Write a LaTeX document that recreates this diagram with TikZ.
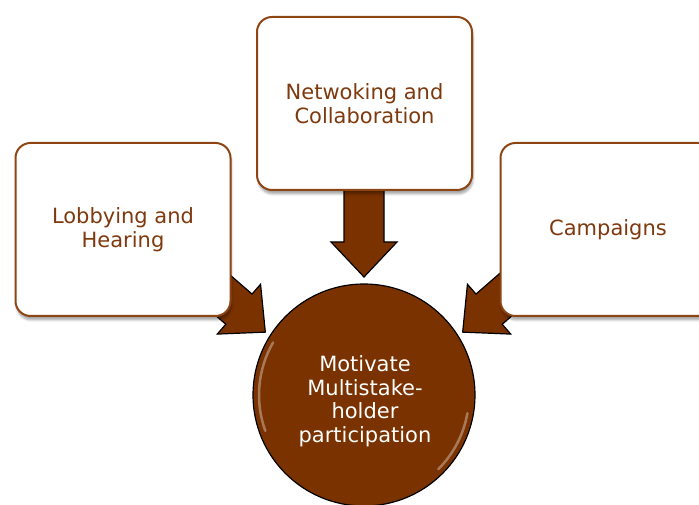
\documentclass[tikz,border=0pt]{standalone}
\usepackage{fontspec}
\setmainfont{DejaVu Sans}
\usetikzlibrary{calc,shadows.blur}
\definecolor{brownfill}{HTML}{7A3200}
\definecolor{brownline}{HTML}{8E4514}
\definecolor{browntext}{HTML}{7E3A0E}
\tikzset{
  box/.style={rounded corners=15pt, draw=brownline, line width=2pt, fill=white,
    minimum width=215pt, minimum height=173pt, text=browntext, align=center,
    font=\fontsize{21}{24}\selectfont,
    blur shadow={shadow xshift=1pt, shadow yshift=-4pt, shadow blur steps=6, shadow opacity=35}},
  hub/.style={circle, draw=black, line width=1.2pt, fill=brownfill, minimum size=222pt,
    inner sep=0pt},
  hubtext/.style={text=white, align=center, font=\fontsize{21}{23.5}\selectfont},
  blockarrow/.style={draw=black, line width=1.2pt, fill=brownfill, line join=miter},
  gloss/.style={white, opacity=0.35, line width=2.5pt, line cap=round}
}
\newcommand\blockarr[2]{%
  \draw[blockarrow] (#1)
    -- ($(#1)+(#2+180:35pt)+(#2+90:33pt)$)
    -- ($(#1)+(#2+180:35pt)+(#2+90:20pt)$)
    -- ($(#1)+(#2+180:110pt)+(#2+90:20pt)$)
    -- ($(#1)+(#2+180:110pt)+(#2-90:20pt)$)
    -- ($(#1)+(#2+180:35pt)+(#2-90:20pt)$)
    -- ($(#1)+(#2+180:35pt)+(#2-90:33pt)$)
    -- cycle;}
\begin{document}
\begin{tikzpicture}[x=1pt,y=1pt]
  \useasboundingbox (0,0) rectangle (699,505);
  \coordinate (c) at (364,110);
  \coordinate (tipT) at ($(c)+(90:118pt)$);
  \coordinate (tipL) at ($(c)+(147.5:117pt)$);
  \coordinate (tipR) at ($(c)+(32.5:117pt)$);
  % block arrows (tails hidden behind the boxes)
  \blockarr{tipT}{-90}
  \blockarr{tipL}{-41}
  \blockarr{tipR}{-139}
  % boxes
  \node[box] (net) at (364.5,401.5) {Netwoking and\\Collaboration};
  \node[box] (lob) at (123,275.5) {Lobbying and\\Hearing};
  \node[box] (cam) at (608,275.5) {Campaigns};
  % hub
  \node[hub] (hub) at (c) {};
  \draw[gloss] ($(c)+(150:105pt)$) arc[start angle=150, end angle=200, radius=105pt];
  \draw[gloss] ($(c)+(-10:105pt)$) arc[start angle=-10, end angle=-45, radius=105pt];
  \node[hubtext] (hubtxt) at ($(hub.center)+(1,-6)$) {Motivate\\Multistake-\\holder\\participation};
\end{tikzpicture}
\end{document}
